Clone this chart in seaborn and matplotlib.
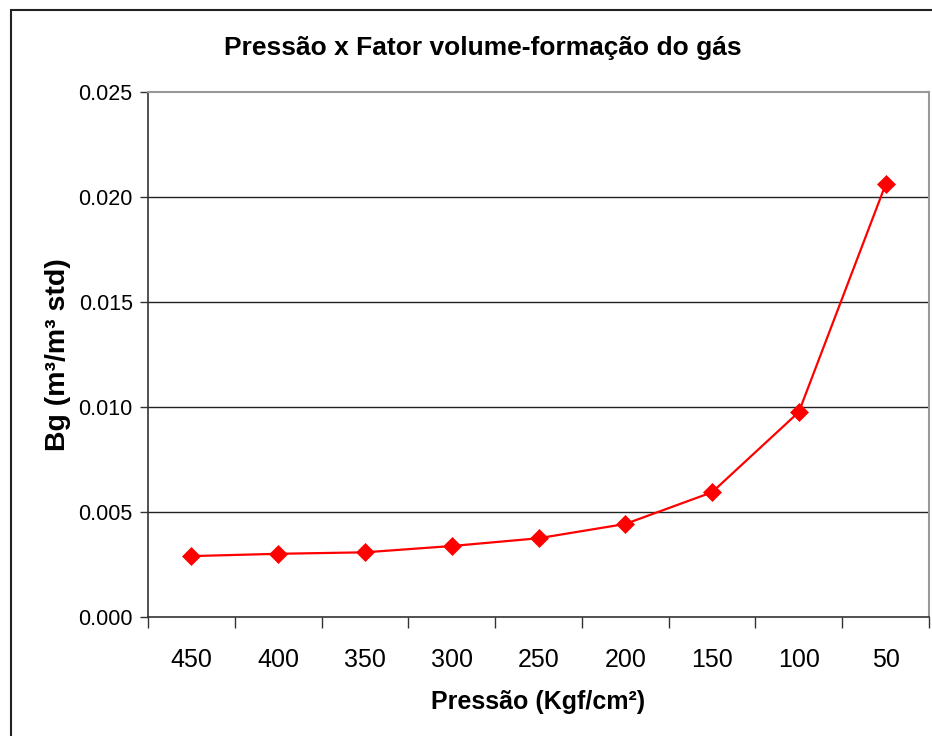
import matplotlib
matplotlib.use("Agg")
import matplotlib.pyplot as plt
from matplotlib.patches import Rectangle
from matplotlib.ticker import FixedLocator, FormatStrFormatter
import numpy as np
import pandas as pd
import seaborn as sns

# Gas formation volume factor versus reservoir pressure
pressure_labels = ["450", "400", "350", "300", "250", "200", "150", "100", "50"]
bg_values = [0.00290, 0.00301, 0.00308, 0.00338, 0.00375, 0.00443, 0.00594, 0.00976, 0.0206]
y_ticks = [0.000, 0.005, 0.010, 0.015, 0.020, 0.025]

title_text = "Pressão x Fator volume-formação do gás"
x_label = "Pressão (Kgf/cm²)"
y_label = "Bg (m³/m³ std)"

df = pd.DataFrame({"pressao": pressure_labels, "bg": bg_values})

sns.set_theme(style="white")
plt.rcParams["font.family"] = ["Liberation Sans", "DejaVu Sans"]
plt.rcParams["text.color"] = "black"
plt.rcParams["axes.labelcolor"] = "black"

fig = plt.figure(figsize=(9.32, 7.36), dpi=100)
W, H = 932, 736
ax = fig.add_axes([148 / W, (H - 617) / H, 781 / W, 525 / H])

sns.lineplot(data=df, x="pressao", y="bg", sort=False, ax=ax,
             color="#ff0000", linewidth=1.6, marker="D", markersize=9.5,
             markeredgecolor="#ff0000", markeredgewidth=0.5)

n = len(pressure_labels)
ax.set_xlim(-0.5, n - 0.5)
ax.set_ylim(y_ticks[0], y_ticks[-1])

# category labels centered, tick marks on category boundaries
ax.set_xticks(range(n))
ax.set_xticklabels(pressure_labels)
ax.xaxis.set_minor_locator(FixedLocator(np.arange(-0.5, n, 1.0)))
ax.tick_params(axis="x", which="major", length=0, pad=22, labelsize=18, labelcolor="black")
ax.tick_params(axis="x", which="minor", length=8, width=1, color="#333333", direction="out", bottom=True)

ax.set_yticks(y_ticks)
ax.yaxis.set_major_formatter(FormatStrFormatter("%.3f"))
ax.tick_params(axis="y", which="major", length=6, width=1, color="#333333", direction="out",
               left=True, pad=5, labelsize=15.5, labelcolor="black")

for yv in y_ticks[1:-1]:
    ax.axhline(yv, color="#222222", linewidth=1.0, zorder=0)

for side in ["left", "bottom"]:
    ax.spines[side].set_color("#333333")
    ax.spines[side].set_linewidth(1.2)
for side in ["top", "right"]:
    ax.spines[side].set_color("#999999")
    ax.spines[side].set_linewidth(1.5)

ax.set_xlabel(x_label, fontsize=18, fontweight="bold", labelpad=13, color="black")
ax.set_ylabel(y_label, fontsize=20.5, fontweight="bold", labelpad=5, color="black")
fig.text(483 / W, (H - 48) / H, title_text, ha="center", va="center",
         fontsize=19, fontweight="bold", color="black")

# chart area frame
fig.patches.append(Rectangle((11 / W, -0.05), 1.2, (H - 10) / H + 0.05,
                             transform=fig.transFigure, fill=False,
                             edgecolor="#222222", linewidth=1.5))

fig.savefig("out.png", dpi=100, facecolor="white")
